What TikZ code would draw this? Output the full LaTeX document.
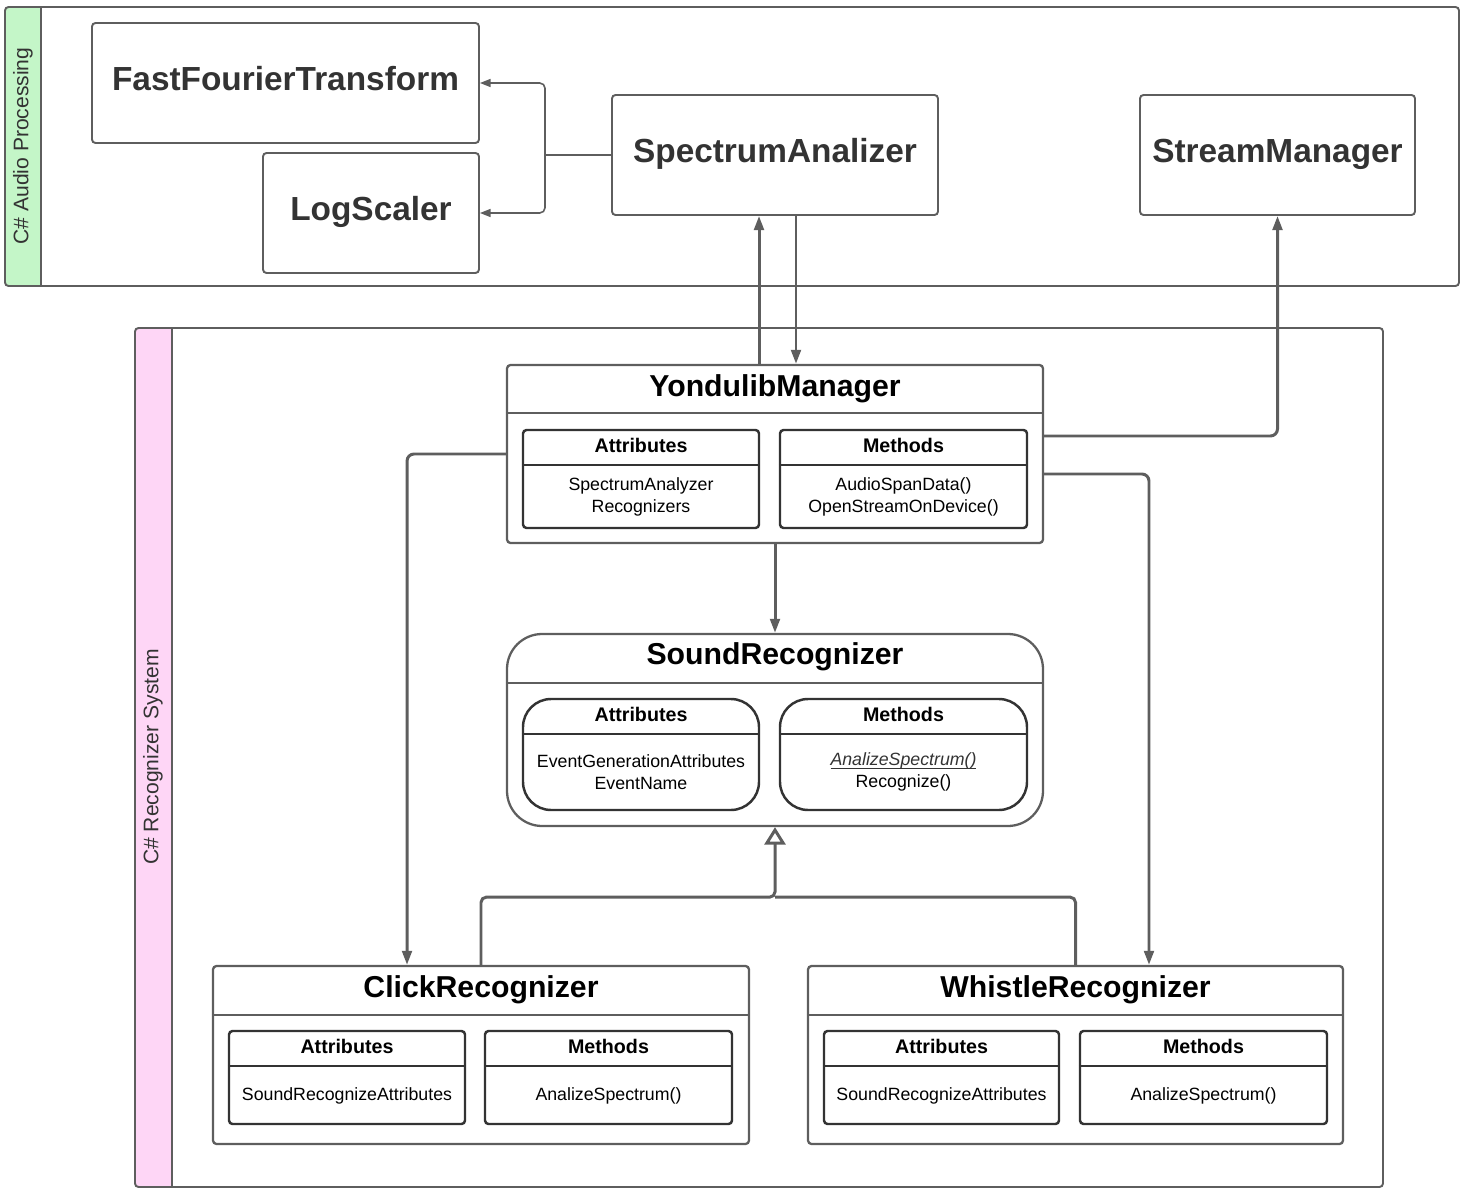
\documentclass[tikz,border=0pt]{standalone}
\usepackage{fontspec}
\setmainfont{Liberation Sans}
\usetikzlibrary{arrows.meta,positioning,calc}

\definecolor{linegray}{RGB}{94,94,94}
\definecolor{partline}{RGB}{51,51,51}
\definecolor{textgray}{RGB}{51,51,51}
\definecolor{audiogreen}{RGB}{196,246,200}
\definecolor{recpink}{RGB}{254,214,246}

\tikzset{
  boxsize/.style 2 args={minimum width=#1*0.02cm, minimum height=#2*0.02cm},
  lane/.style={draw=linegray, line width=1.1pt, rounded corners=2pt},
  comp/.style={draw=linegray, line width=1.1pt, rounded corners=2pt, inner sep=0pt,
    text height=14pt, text depth=6pt,
    text=textgray, font=\bfseries\fontsize{19}{22}\selectfont},
  cls/.style={draw=linegray, line width=1.3pt, rounded corners=2pt, inner sep=0pt},
  part/.style={draw=partline, line width=1.4pt, rounded corners=2pt, inner sep=0pt},
  title/.style={font=\bfseries\fontsize{17.2}{20}\selectfont},
  head/.style={font=\bfseries\fontsize{11.2}{13}\selectfont},
  body/.style={font=\fontsize{10.1}{12.5}\selectfont, align=center},
  lanetext/.style={text=textgray, font=\fontsize{12}{14}\selectfont, rotate=90},
  link/.style={draw=linegray, line width=1.7pt, -{Triangle[length=8pt,width=5.5pt]}},
  thinlink/.style={draw=linegray, line width=0.9pt, -{Triangle[length=6pt,width=4.5pt]}},
  inherit/.style={draw=linegray, line width=1.7pt, -{Triangle[open,length=10pt,width=12pt]}},
}

\begin{document}
\begin{tikzpicture}[x=0.02cm, y=-0.02cm]
  \useasboundingbox (0,0) rectangle (1464,1192);

  % lanes
  \fill[audiogreen, rounded corners=2pt] (5,7) rectangle (41,286);
  \draw[lane] (5,7) rectangle (1459,286);
  \draw[lane] (41,7) -- (41,286);
  \node[lanetext] (audiolbl) at (23,146) {C\# Audio Processing};

  \fill[recpink, rounded corners=2pt] (135,328) rectangle (172,1187);
  \draw[lane] (135,328) rectangle (1383,1187);
  \draw[lane] (172,328) -- (172,1187);
  \node[lanetext] (reclbl) at (153,757) {C\# Recognizer System};

  % audio processing
  \node[comp, boxsize={387}{120}] (fft) at (285.5,83) {FastFourierTransform};
  \node[comp, boxsize={216}{120}] (logs) at (371,213) {LogScaler};
  \node[comp, boxsize={326}{120}] (spec) at (775,155) {SpectrumAnalizer};
  \node[comp, boxsize={275}{120}] (strm) at (1277.5,155) {StreamManager};

  \draw[thinlink, -] (spec.west) -- ++(-66,0) coordinate (fork);
  \draw[thinlink, rounded corners=3pt] (fork) |- (fft.east);
  \draw[thinlink, rounded corners=3pt] (fork) |- (logs.east);

  % YondulibManager
  \node[cls, boxsize={536}{178}] (ym) at (775,454) {};
  \draw[cls] ($(ym.north west)+(0,49)$) -- ($(ym.north east)+(0,49)$);
  \node[title] (ymtitle) at ($(ym.north)+(0,25)$) {YondulibManager};
  \node[part, boxsize={236}{98}] (ymattr) at (641,479) {};
  \draw[part] ($(ymattr.north west)+(0,36)$) -- ($(ymattr.north east)+(0,36)$);
  \node[head] (ymattrh) at ($(ymattr.north)+(0,17)$) {Attributes};
  \node[body] (ymattrb) at ($(ymattr.north)+(0,68)$) {SpectrumAnalyzer\\Recognizers};
  \node[part, boxsize={247}{98}] (ymmeth) at (903.5,479) {};
  \draw[part] ($(ymmeth.north west)+(0,36)$) -- ($(ymmeth.north east)+(0,36)$);
  \node[head] (ymmethh) at ($(ymmeth.north)+(0,17)$) {Methods};
  \node[body] (ymmethb) at ($(ymmeth.north)+(0,68)$) {AudioSpanData()\\OpenStreamOnDevice()};

  % SoundRecognizer
  \node[cls, rounded corners=20pt, boxsize={536}{192}] (snd) at (775,730) {};
  \draw[cls] ($(snd.north west)+(0,50)$) -- ($(snd.north east)+(0,50)$);
  \node[title] (sndtitle) at ($(snd.north)+(0,24)$) {SoundRecognizer};
  \node[part, rounded corners=16pt, boxsize={236}{111}] (sndattr) at (641,754.5) {};
  \draw[part] ($(sndattr.north west)+(0,36)$) -- ($(sndattr.north east)+(0,36)$);
  \node[head] (sndattrh) at ($(sndattr.north)+(0,17)$) {Attributes};
  \node[body] (sndattrb) at ($(sndattr.north)+(0,74.5)$) {EventGenerationAttributes\\EventName};
  \node[part, rounded corners=16pt, boxsize={247}{111}] (sndmeth) at (903.5,754.5) {};
  \draw[part] ($(sndmeth.north west)+(0,36)$) -- ($(sndmeth.north east)+(0,36)$);
  \node[head] (sndmethh) at ($(sndmeth.north)+(0,17)$) {Methods};
  \node[body] (sndmethb) at ($(sndmeth.north)+(0,74.5)$)
    {\textcolor{textgray}{\underline{\raisebox{0pt}[\height][0pt]{\textit{AnalizeSpectrum()}}}}\\Recognize()};

  % ClickRecognizer
  \node[cls, boxsize={536}{178}] (click) at (481,1055) {};
  \draw[cls] ($(click.north west)+(0,50)$) -- ($(click.north east)+(0,50)$);
  \node[title] (clicktitle) at ($(click.north)+(0,25)$) {ClickRecognizer};
  \node[part, boxsize={236}{93}] (clickattr) at (347,1077.5) {};
  \draw[part] ($(clickattr.north west)+(0,36)$) -- ($(clickattr.north east)+(0,36)$);
  \node[head] (clickattrh) at ($(clickattr.north)+(0,17)$) {Attributes};
  \node[body] (clickattrb) at ($(clickattr.north)+(0,66)$) {SoundRecognizeAttributes};
  \node[part, boxsize={247}{93}] (clickmeth) at (608.5,1077.5) {};
  \draw[part] ($(clickmeth.north west)+(0,36)$) -- ($(clickmeth.north east)+(0,36)$);
  \node[head] (clickmethh) at ($(clickmeth.north)+(0,17)$) {Methods};
  \node[body] (clickmethb) at ($(clickmeth.north)+(0,66)$) {AnalizeSpectrum()};

  % WhistleRecognizer
  \node[cls, boxsize={535}{178}] (whistle) at (1075.5,1055) {};
  \draw[cls] ($(whistle.north west)+(0,50)$) -- ($(whistle.north east)+(0,50)$);
  \node[title] (whistletitle) at ($(whistle.north)+(0,25)$) {WhistleRecognizer};
  \node[part, boxsize={235}{93}] (whistleattr) at (941.5,1077.5) {};
  \draw[part] ($(whistleattr.north west)+(0,36)$) -- ($(whistleattr.north east)+(0,36)$);
  \node[head] (whistleattrh) at ($(whistleattr.north)+(0,17)$) {Attributes};
  \node[body] (whistleattrb) at ($(whistleattr.north)+(0,66)$) {SoundRecognizeAttributes};
  \node[part, boxsize={247}{93}] (whistlemeth) at (1203.5,1077.5) {};
  \draw[part] ($(whistlemeth.north west)+(0,36)$) -- ($(whistlemeth.north east)+(0,36)$);
  \node[head] (whistlemethh) at ($(whistlemeth.north)+(0,17)$) {Methods};
  \node[body] (whistlemethb) at ($(whistlemeth.north)+(0,66)$) {AnalizeSpectrum()};

  % connectors
  \draw[link] ([xshift=-0.32cm]ym.north) -- ([xshift=-0.32cm]spec.south);
  \draw[link] ([xshift=0.42cm]spec.south) -- ([xshift=0.42cm]ym.north);
  \draw[link, rounded corners=4pt] ([yshift=0.36cm]ym.east) -| (strm.south);
  \draw[link, rounded corners=4pt] (ym.west) -| ([xshift=-1.48cm]click.north);
  \draw[link, rounded corners=4pt] ([yshift=-0.4cm]ym.east) -| ([xshift=1.47cm]whistle.north);
  \draw[link] (ym.south) -- (snd.north);

  \coordinate (join) at ($(snd.south)+(0,70)$);
  \draw[inherit, rounded corners=3pt] (click.north) |- (join) -- (snd.south);
  \draw[link, -, rounded corners=3pt] (whistle.north) |- (join);
\end{tikzpicture}
\end{document}
